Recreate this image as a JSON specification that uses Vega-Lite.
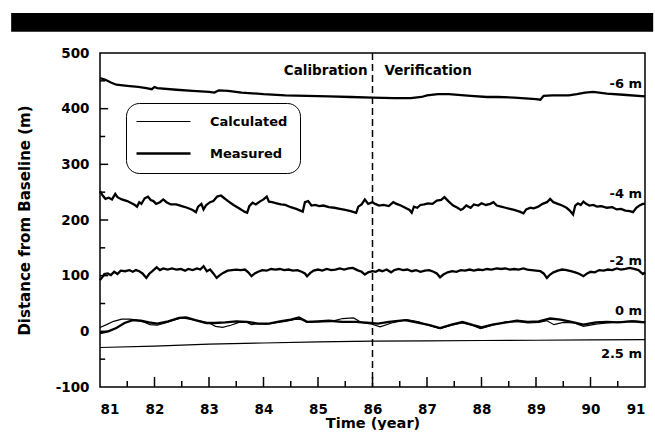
{
  "$schema": "https://vega.github.io/schema/vega-lite/v6.json",
  "background": "white",
  "padding": {"left": 11, "top": 12, "right": 0, "bottom": 0},
  "autosize": {"type": "pad"},
  "width": 545,
  "height": 334,
  "config": {
    "font": "DejaVu Sans",
    "view": {"stroke": "black", "strokeWidth": 1.5, "fill": null},
    "axis": {
      "domain": false,
      "ticks": false,
      "grid": false,
      "labelColor": "black",
      "labelFont": "DejaVu Sans",
      "labelFontSize": 13.5,
      "labelFontWeight": "bold",
      "titleColor": "black",
      "titleFont": "DejaVu Sans",
      "titleFontWeight": "bold"
    },
    "text": {"font": "DejaVu Sans", "fontWeight": "bold", "color": "black"}
  },
  "datasets": {
    "shoreline": [
      {"line":"-6 m","kind":"Measured","year":81,"dist":455},{"line":"-6 m","kind":"Measured","year":81.1,"dist":452},{"line":"-6 m","kind":"Measured","year":81.2,"dist":447},{"line":"-6 m","kind":"Measured","year":81.3,"dist":443},{"line":"-6 m","kind":"Measured","year":81.5,"dist":441},{"line":"-6 m","kind":"Measured","year":81.7,"dist":439},{"line":"-6 m","kind":"Measured","year":81.85,"dist":437},{"line":"-6 m","kind":"Measured","year":81.95,"dist":435},{"line":"-6 m","kind":"Measured","year":82,"dist":439},{"line":"-6 m","kind":"Measured","year":82.05,"dist":437},{"line":"-6 m","kind":"Measured","year":82.4,"dist":434},{"line":"-6 m","kind":"Measured","year":82.7,"dist":432},{"line":"-6 m","kind":"Measured","year":83,"dist":430},{"line":"-6 m","kind":"Measured","year":83.1,"dist":429},{"line":"-6 m","kind":"Measured","year":83.18,"dist":433},{"line":"-6 m","kind":"Measured","year":83.35,"dist":432},{"line":"-6 m","kind":"Measured","year":83.6,"dist":429},{"line":"-6 m","kind":"Measured","year":84,"dist":426},{"line":"-6 m","kind":"Measured","year":84.4,"dist":424},{"line":"-6 m","kind":"Measured","year":84.8,"dist":423},{"line":"-6 m","kind":"Measured","year":85.2,"dist":422},{"line":"-6 m","kind":"Measured","year":85.6,"dist":421},{"line":"-6 m","kind":"Measured","year":86,"dist":420},{"line":"-6 m","kind":"Measured","year":86.4,"dist":419},{"line":"-6 m","kind":"Measured","year":86.7,"dist":419},{"line":"-6 m","kind":"Measured","year":86.9,"dist":421},{"line":"-6 m","kind":"Measured","year":87,"dist":424},{"line":"-6 m","kind":"Measured","year":87.2,"dist":426},{"line":"-6 m","kind":"Measured","year":87.4,"dist":426},{"line":"-6 m","kind":"Measured","year":87.8,"dist":423},{"line":"-6 m","kind":"Measured","year":88.1,"dist":421},{"line":"-6 m","kind":"Measured","year":88.3,"dist":421},{"line":"-6 m","kind":"Measured","year":88.6,"dist":420},{"line":"-6 m","kind":"Measured","year":89,"dist":417},{"line":"-6 m","kind":"Measured","year":89.08,"dist":416},{"line":"-6 m","kind":"Measured","year":89.14,"dist":423},{"line":"-6 m","kind":"Measured","year":89.3,"dist":424},{"line":"-6 m","kind":"Measured","year":89.6,"dist":424},{"line":"-6 m","kind":"Measured","year":89.75,"dist":426},{"line":"-6 m","kind":"Measured","year":89.9,"dist":429},{"line":"-6 m","kind":"Measured","year":90.05,"dist":430},{"line":"-6 m","kind":"Measured","year":90.3,"dist":427},{"line":"-6 m","kind":"Measured","year":90.6,"dist":425},{"line":"-6 m","kind":"Measured","year":91,"dist":422},

      {"line":"-4 m","kind":"Measured","year":81.0,"dist":252},{"line":"-4 m","kind":"Measured","year":81.05,"dist":244},{"line":"-4 m","kind":"Measured","year":81.1,"dist":238},{"line":"-4 m","kind":"Measured","year":81.16,"dist":240},{"line":"-4 m","kind":"Measured","year":81.22,"dist":237},{"line":"-4 m","kind":"Measured","year":81.28,"dist":247},{"line":"-4 m","kind":"Measured","year":81.32,"dist":241},{"line":"-4 m","kind":"Measured","year":81.4,"dist":237},{"line":"-4 m","kind":"Measured","year":81.5,"dist":234},{"line":"-4 m","kind":"Measured","year":81.58,"dist":230},{"line":"-4 m","kind":"Measured","year":81.64,"dist":227},{"line":"-4 m","kind":"Measured","year":81.68,"dist":224},{"line":"-4 m","kind":"Measured","year":81.72,"dist":232},{"line":"-4 m","kind":"Measured","year":81.76,"dist":229},{"line":"-4 m","kind":"Measured","year":81.82,"dist":239},{"line":"-4 m","kind":"Measured","year":81.88,"dist":242},{"line":"-4 m","kind":"Measured","year":81.93,"dist":236},{"line":"-4 m","kind":"Measured","year":81.98,"dist":234},{"line":"-4 m","kind":"Measured","year":82.03,"dist":229},{"line":"-4 m","kind":"Measured","year":82.1,"dist":232},{"line":"-4 m","kind":"Measured","year":82.16,"dist":237},{"line":"-4 m","kind":"Measured","year":82.22,"dist":232},{"line":"-4 m","kind":"Measured","year":82.3,"dist":228},{"line":"-4 m","kind":"Measured","year":82.4,"dist":228},{"line":"-4 m","kind":"Measured","year":82.5,"dist":225},{"line":"-4 m","kind":"Measured","year":82.6,"dist":222},{"line":"-4 m","kind":"Measured","year":82.7,"dist":218},{"line":"-4 m","kind":"Measured","year":82.76,"dist":214},{"line":"-4 m","kind":"Measured","year":82.8,"dist":224},{"line":"-4 m","kind":"Measured","year":82.86,"dist":229},{"line":"-4 m","kind":"Measured","year":82.9,"dist":219},{"line":"-4 m","kind":"Measured","year":82.95,"dist":227},{"line":"-4 m","kind":"Measured","year":83.02,"dist":232},{"line":"-4 m","kind":"Measured","year":83.08,"dist":234},{"line":"-4 m","kind":"Measured","year":83.15,"dist":242},{"line":"-4 m","kind":"Measured","year":83.22,"dist":244},{"line":"-4 m","kind":"Measured","year":83.27,"dist":240},{"line":"-4 m","kind":"Measured","year":83.35,"dist":234},{"line":"-4 m","kind":"Measured","year":83.45,"dist":227},{"line":"-4 m","kind":"Measured","year":83.55,"dist":221},{"line":"-4 m","kind":"Measured","year":83.65,"dist":215},{"line":"-4 m","kind":"Measured","year":83.7,"dist":213},{"line":"-4 m","kind":"Measured","year":83.74,"dist":225},{"line":"-4 m","kind":"Measured","year":83.8,"dist":231},{"line":"-4 m","kind":"Measured","year":83.86,"dist":228},{"line":"-4 m","kind":"Measured","year":83.93,"dist":233},{"line":"-4 m","kind":"Measured","year":84.0,"dist":237},{"line":"-4 m","kind":"Measured","year":84.06,"dist":242},{"line":"-4 m","kind":"Measured","year":84.1,"dist":233},{"line":"-4 m","kind":"Measured","year":84.16,"dist":232},{"line":"-4 m","kind":"Measured","year":84.24,"dist":230},{"line":"-4 m","kind":"Measured","year":84.32,"dist":228},{"line":"-4 m","kind":"Measured","year":84.4,"dist":227},{"line":"-4 m","kind":"Measured","year":84.5,"dist":223},{"line":"-4 m","kind":"Measured","year":84.6,"dist":220},{"line":"-4 m","kind":"Measured","year":84.72,"dist":215},{"line":"-4 m","kind":"Measured","year":84.76,"dist":232},{"line":"-4 m","kind":"Measured","year":84.82,"dist":234},{"line":"-4 m","kind":"Measured","year":84.88,"dist":226},{"line":"-4 m","kind":"Measured","year":84.95,"dist":227},{"line":"-4 m","kind":"Measured","year":85.02,"dist":225},{"line":"-4 m","kind":"Measured","year":85.1,"dist":226},{"line":"-4 m","kind":"Measured","year":85.2,"dist":223},{"line":"-4 m","kind":"Measured","year":85.3,"dist":222},{"line":"-4 m","kind":"Measured","year":85.4,"dist":220},{"line":"-4 m","kind":"Measured","year":85.5,"dist":218},{"line":"-4 m","kind":"Measured","year":85.6,"dist":216},{"line":"-4 m","kind":"Measured","year":85.7,"dist":213},{"line":"-4 m","kind":"Measured","year":85.74,"dist":224},{"line":"-4 m","kind":"Measured","year":85.8,"dist":228},{"line":"-4 m","kind":"Measured","year":85.86,"dist":237},{"line":"-4 m","kind":"Measured","year":85.92,"dist":229},{"line":"-4 m","kind":"Measured","year":86.0,"dist":232},{"line":"-4 m","kind":"Measured","year":86.05,"dist":229},{"line":"-4 m","kind":"Measured","year":86.12,"dist":226},{"line":"-4 m","kind":"Measured","year":86.2,"dist":227},{"line":"-4 m","kind":"Measured","year":86.3,"dist":225},{"line":"-4 m","kind":"Measured","year":86.38,"dist":232},{"line":"-4 m","kind":"Measured","year":86.44,"dist":229},{"line":"-4 m","kind":"Measured","year":86.52,"dist":226},{"line":"-4 m","kind":"Measured","year":86.6,"dist":222},{"line":"-4 m","kind":"Measured","year":86.68,"dist":218},{"line":"-4 m","kind":"Measured","year":86.72,"dist":213},{"line":"-4 m","kind":"Measured","year":86.76,"dist":224},{"line":"-4 m","kind":"Measured","year":86.82,"dist":222},{"line":"-4 m","kind":"Measured","year":86.88,"dist":227},{"line":"-4 m","kind":"Measured","year":86.95,"dist":228},{"line":"-4 m","kind":"Measured","year":87.02,"dist":230},{"line":"-4 m","kind":"Measured","year":87.1,"dist":229},{"line":"-4 m","kind":"Measured","year":87.18,"dist":235},{"line":"-4 m","kind":"Measured","year":87.26,"dist":236},{"line":"-4 m","kind":"Measured","year":87.32,"dist":241},{"line":"-4 m","kind":"Measured","year":87.4,"dist":233},{"line":"-4 m","kind":"Measured","year":87.48,"dist":226},{"line":"-4 m","kind":"Measured","year":87.56,"dist":222},{"line":"-4 m","kind":"Measured","year":87.62,"dist":218},{"line":"-4 m","kind":"Measured","year":87.66,"dist":220},{"line":"-4 m","kind":"Measured","year":87.72,"dist":226},{"line":"-4 m","kind":"Measured","year":87.8,"dist":222},{"line":"-4 m","kind":"Measured","year":87.86,"dist":228},{"line":"-4 m","kind":"Measured","year":87.94,"dist":226},{"line":"-4 m","kind":"Measured","year":88.0,"dist":230},{"line":"-4 m","kind":"Measured","year":88.08,"dist":227},{"line":"-4 m","kind":"Measured","year":88.16,"dist":229},{"line":"-4 m","kind":"Measured","year":88.22,"dist":232},{"line":"-4 m","kind":"Measured","year":88.28,"dist":226},{"line":"-4 m","kind":"Measured","year":88.36,"dist":224},{"line":"-4 m","kind":"Measured","year":88.44,"dist":222},{"line":"-4 m","kind":"Measured","year":88.52,"dist":220},{"line":"-4 m","kind":"Measured","year":88.6,"dist":218},{"line":"-4 m","kind":"Measured","year":88.7,"dist":215},{"line":"-4 m","kind":"Measured","year":88.77,"dist":212},{"line":"-4 m","kind":"Measured","year":88.82,"dist":219},{"line":"-4 m","kind":"Measured","year":88.9,"dist":222},{"line":"-4 m","kind":"Measured","year":88.96,"dist":221},{"line":"-4 m","kind":"Measured","year":89.04,"dist":224},{"line":"-4 m","kind":"Measured","year":89.12,"dist":229},{"line":"-4 m","kind":"Measured","year":89.2,"dist":232},{"line":"-4 m","kind":"Measured","year":89.26,"dist":238},{"line":"-4 m","kind":"Measured","year":89.32,"dist":232},{"line":"-4 m","kind":"Measured","year":89.4,"dist":229},{"line":"-4 m","kind":"Measured","year":89.48,"dist":226},{"line":"-4 m","kind":"Measured","year":89.56,"dist":222},{"line":"-4 m","kind":"Measured","year":89.62,"dist":217},{"line":"-4 m","kind":"Measured","year":89.68,"dist":210},{"line":"-4 m","kind":"Measured","year":89.72,"dist":226},{"line":"-4 m","kind":"Measured","year":89.77,"dist":230},{"line":"-4 m","kind":"Measured","year":89.82,"dist":227},{"line":"-4 m","kind":"Measured","year":89.87,"dist":233},{"line":"-4 m","kind":"Measured","year":89.92,"dist":229},{"line":"-4 m","kind":"Measured","year":89.98,"dist":226},{"line":"-4 m","kind":"Measured","year":90.05,"dist":227},{"line":"-4 m","kind":"Measured","year":90.12,"dist":224},{"line":"-4 m","kind":"Measured","year":90.2,"dist":225},{"line":"-4 m","kind":"Measured","year":90.3,"dist":222},{"line":"-4 m","kind":"Measured","year":90.4,"dist":223},{"line":"-4 m","kind":"Measured","year":90.48,"dist":219},{"line":"-4 m","kind":"Measured","year":90.56,"dist":220},{"line":"-4 m","kind":"Measured","year":90.64,"dist":217},{"line":"-4 m","kind":"Measured","year":90.72,"dist":216},{"line":"-4 m","kind":"Measured","year":90.78,"dist":214},{"line":"-4 m","kind":"Measured","year":90.84,"dist":222},{"line":"-4 m","kind":"Measured","year":90.9,"dist":226},{"line":"-4 m","kind":"Measured","year":90.96,"dist":229},{"line":"-4 m","kind":"Measured","year":91.0,"dist":229},

      {"line":"-2 m","kind":"Measured","year":81.0,"dist":92},{"line":"-2 m","kind":"Measured","year":81.04,"dist":97},{"line":"-2 m","kind":"Measured","year":81.08,"dist":103},{"line":"-2 m","kind":"Measured","year":81.14,"dist":104},{"line":"-2 m","kind":"Measured","year":81.2,"dist":101},{"line":"-2 m","kind":"Measured","year":81.26,"dist":107},{"line":"-2 m","kind":"Measured","year":81.32,"dist":103},{"line":"-2 m","kind":"Measured","year":81.38,"dist":109},{"line":"-2 m","kind":"Measured","year":81.46,"dist":108},{"line":"-2 m","kind":"Measured","year":81.54,"dist":110},{"line":"-2 m","kind":"Measured","year":81.6,"dist":107},{"line":"-2 m","kind":"Measured","year":81.66,"dist":110},{"line":"-2 m","kind":"Measured","year":81.72,"dist":108},{"line":"-2 m","kind":"Measured","year":81.78,"dist":104},{"line":"-2 m","kind":"Measured","year":81.85,"dist":96},{"line":"-2 m","kind":"Measured","year":81.9,"dist":103},{"line":"-2 m","kind":"Measured","year":81.96,"dist":108},{"line":"-2 m","kind":"Measured","year":82.04,"dist":115},{"line":"-2 m","kind":"Measured","year":82.1,"dist":110},{"line":"-2 m","kind":"Measured","year":82.16,"dist":113},{"line":"-2 m","kind":"Measured","year":82.24,"dist":111},{"line":"-2 m","kind":"Measured","year":82.32,"dist":113},{"line":"-2 m","kind":"Measured","year":82.4,"dist":111},{"line":"-2 m","kind":"Measured","year":82.48,"dist":112},{"line":"-2 m","kind":"Measured","year":82.56,"dist":109},{"line":"-2 m","kind":"Measured","year":82.62,"dist":112},{"line":"-2 m","kind":"Measured","year":82.7,"dist":110},{"line":"-2 m","kind":"Measured","year":82.78,"dist":113},{"line":"-2 m","kind":"Measured","year":82.84,"dist":111},{"line":"-2 m","kind":"Measured","year":82.9,"dist":117},{"line":"-2 m","kind":"Measured","year":82.96,"dist":108},{"line":"-2 m","kind":"Measured","year":83.02,"dist":111},{"line":"-2 m","kind":"Measured","year":83.08,"dist":104},{"line":"-2 m","kind":"Measured","year":83.14,"dist":96},{"line":"-2 m","kind":"Measured","year":83.2,"dist":101},{"line":"-2 m","kind":"Measured","year":83.26,"dist":105},{"line":"-2 m","kind":"Measured","year":83.34,"dist":109},{"line":"-2 m","kind":"Measured","year":83.42,"dist":110},{"line":"-2 m","kind":"Measured","year":83.5,"dist":111},{"line":"-2 m","kind":"Measured","year":83.58,"dist":110},{"line":"-2 m","kind":"Measured","year":83.66,"dist":111},{"line":"-2 m","kind":"Measured","year":83.72,"dist":106},{"line":"-2 m","kind":"Measured","year":83.78,"dist":99},{"line":"-2 m","kind":"Measured","year":83.84,"dist":104},{"line":"-2 m","kind":"Measured","year":83.9,"dist":107},{"line":"-2 m","kind":"Measured","year":83.98,"dist":110},{"line":"-2 m","kind":"Measured","year":84.06,"dist":109},{"line":"-2 m","kind":"Measured","year":84.14,"dist":112},{"line":"-2 m","kind":"Measured","year":84.22,"dist":111},{"line":"-2 m","kind":"Measured","year":84.3,"dist":112},{"line":"-2 m","kind":"Measured","year":84.38,"dist":110},{"line":"-2 m","kind":"Measured","year":84.46,"dist":111},{"line":"-2 m","kind":"Measured","year":84.54,"dist":109},{"line":"-2 m","kind":"Measured","year":84.62,"dist":110},{"line":"-2 m","kind":"Measured","year":84.7,"dist":107},{"line":"-2 m","kind":"Measured","year":84.76,"dist":104},{"line":"-2 m","kind":"Measured","year":84.8,"dist":99},{"line":"-2 m","kind":"Measured","year":84.86,"dist":105},{"line":"-2 m","kind":"Measured","year":84.92,"dist":109},{"line":"-2 m","kind":"Measured","year":85.0,"dist":111},{"line":"-2 m","kind":"Measured","year":85.08,"dist":109},{"line":"-2 m","kind":"Measured","year":85.16,"dist":112},{"line":"-2 m","kind":"Measured","year":85.24,"dist":110},{"line":"-2 m","kind":"Measured","year":85.32,"dist":111},{"line":"-2 m","kind":"Measured","year":85.4,"dist":113},{"line":"-2 m","kind":"Measured","year":85.48,"dist":111},{"line":"-2 m","kind":"Measured","year":85.56,"dist":113},{"line":"-2 m","kind":"Measured","year":85.64,"dist":114},{"line":"-2 m","kind":"Measured","year":85.72,"dist":110},{"line":"-2 m","kind":"Measured","year":85.8,"dist":107},{"line":"-2 m","kind":"Measured","year":85.86,"dist":102},{"line":"-2 m","kind":"Measured","year":85.92,"dist":106},{"line":"-2 m","kind":"Measured","year":86.0,"dist":108},{"line":"-2 m","kind":"Measured","year":86.06,"dist":107},{"line":"-2 m","kind":"Measured","year":86.12,"dist":110},{"line":"-2 m","kind":"Measured","year":86.18,"dist":108},{"line":"-2 m","kind":"Measured","year":86.26,"dist":111},{"line":"-2 m","kind":"Measured","year":86.34,"dist":106},{"line":"-2 m","kind":"Measured","year":86.4,"dist":110},{"line":"-2 m","kind":"Measured","year":86.48,"dist":112},{"line":"-2 m","kind":"Measured","year":86.56,"dist":110},{"line":"-2 m","kind":"Measured","year":86.64,"dist":111},{"line":"-2 m","kind":"Measured","year":86.72,"dist":108},{"line":"-2 m","kind":"Measured","year":86.8,"dist":110},{"line":"-2 m","kind":"Measured","year":86.88,"dist":107},{"line":"-2 m","kind":"Measured","year":86.96,"dist":109},{"line":"-2 m","kind":"Measured","year":87.04,"dist":110},{"line":"-2 m","kind":"Measured","year":87.12,"dist":107},{"line":"-2 m","kind":"Measured","year":87.18,"dist":104},{"line":"-2 m","kind":"Measured","year":87.24,"dist":97},{"line":"-2 m","kind":"Measured","year":87.3,"dist":102},{"line":"-2 m","kind":"Measured","year":87.38,"dist":106},{"line":"-2 m","kind":"Measured","year":87.46,"dist":108},{"line":"-2 m","kind":"Measured","year":87.54,"dist":107},{"line":"-2 m","kind":"Measured","year":87.62,"dist":110},{"line":"-2 m","kind":"Measured","year":87.7,"dist":109},{"line":"-2 m","kind":"Measured","year":87.78,"dist":111},{"line":"-2 m","kind":"Measured","year":87.86,"dist":109},{"line":"-2 m","kind":"Measured","year":87.94,"dist":111},{"line":"-2 m","kind":"Measured","year":88.02,"dist":110},{"line":"-2 m","kind":"Measured","year":88.1,"dist":112},{"line":"-2 m","kind":"Measured","year":88.18,"dist":111},{"line":"-2 m","kind":"Measured","year":88.28,"dist":113},{"line":"-2 m","kind":"Measured","year":88.36,"dist":112},{"line":"-2 m","kind":"Measured","year":88.44,"dist":113},{"line":"-2 m","kind":"Measured","year":88.52,"dist":111},{"line":"-2 m","kind":"Measured","year":88.6,"dist":112},{"line":"-2 m","kind":"Measured","year":88.68,"dist":111},{"line":"-2 m","kind":"Measured","year":88.77,"dist":113},{"line":"-2 m","kind":"Measured","year":88.84,"dist":111},{"line":"-2 m","kind":"Measured","year":88.92,"dist":110},{"line":"-2 m","kind":"Measured","year":89.0,"dist":109},{"line":"-2 m","kind":"Measured","year":89.08,"dist":108},{"line":"-2 m","kind":"Measured","year":89.14,"dist":104},{"line":"-2 m","kind":"Measured","year":89.2,"dist":96},{"line":"-2 m","kind":"Measured","year":89.26,"dist":102},{"line":"-2 m","kind":"Measured","year":89.32,"dist":106},{"line":"-2 m","kind":"Measured","year":89.4,"dist":109},{"line":"-2 m","kind":"Measured","year":89.48,"dist":111},{"line":"-2 m","kind":"Measured","year":89.56,"dist":110},{"line":"-2 m","kind":"Measured","year":89.64,"dist":108},{"line":"-2 m","kind":"Measured","year":89.72,"dist":106},{"line":"-2 m","kind":"Measured","year":89.8,"dist":103},{"line":"-2 m","kind":"Measured","year":89.87,"dist":99},{"line":"-2 m","kind":"Measured","year":89.94,"dist":104},{"line":"-2 m","kind":"Measured","year":90.0,"dist":107},{"line":"-2 m","kind":"Measured","year":90.08,"dist":106},{"line":"-2 m","kind":"Measured","year":90.16,"dist":110},{"line":"-2 m","kind":"Measured","year":90.24,"dist":109},{"line":"-2 m","kind":"Measured","year":90.32,"dist":111},{"line":"-2 m","kind":"Measured","year":90.4,"dist":110},{"line":"-2 m","kind":"Measured","year":90.48,"dist":113},{"line":"-2 m","kind":"Measured","year":90.56,"dist":111},{"line":"-2 m","kind":"Measured","year":90.64,"dist":112},{"line":"-2 m","kind":"Measured","year":90.72,"dist":114},{"line":"-2 m","kind":"Measured","year":90.8,"dist":112},{"line":"-2 m","kind":"Measured","year":90.88,"dist":110},{"line":"-2 m","kind":"Measured","year":90.96,"dist":103},{"line":"-2 m","kind":"Measured","year":91.0,"dist":106},

      {"line":"0 m measured","kind":"Measured","year":81.0,"dist":-3},{"line":"0 m measured","kind":"Measured","year":81.15,"dist":0},{"line":"0 m measured","kind":"Measured","year":81.3,"dist":6},{"line":"0 m measured","kind":"Measured","year":81.45,"dist":15},{"line":"0 m measured","kind":"Measured","year":81.6,"dist":20},{"line":"0 m measured","kind":"Measured","year":81.75,"dist":19},{"line":"0 m measured","kind":"Measured","year":81.9,"dist":16},{"line":"0 m measured","kind":"Measured","year":82.05,"dist":14},{"line":"0 m measured","kind":"Measured","year":82.25,"dist":18},{"line":"0 m measured","kind":"Measured","year":82.45,"dist":24},{"line":"0 m measured","kind":"Measured","year":82.58,"dist":25},{"line":"0 m measured","kind":"Measured","year":82.75,"dist":20},{"line":"0 m measured","kind":"Measured","year":82.95,"dist":15},{"line":"0 m measured","kind":"Measured","year":83.1,"dist":15},{"line":"0 m measured","kind":"Measured","year":83.3,"dist":16},{"line":"0 m measured","kind":"Measured","year":83.5,"dist":18},{"line":"0 m measured","kind":"Measured","year":83.7,"dist":17},{"line":"0 m measured","kind":"Measured","year":83.9,"dist":14},{"line":"0 m measured","kind":"Measured","year":84.1,"dist":14},{"line":"0 m measured","kind":"Measured","year":84.3,"dist":18},{"line":"0 m measured","kind":"Measured","year":84.5,"dist":21},{"line":"0 m measured","kind":"Measured","year":84.65,"dist":25},{"line":"0 m measured","kind":"Measured","year":84.8,"dist":17},{"line":"0 m measured","kind":"Measured","year":85.0,"dist":18},{"line":"0 m measured","kind":"Measured","year":85.2,"dist":19},{"line":"0 m measured","kind":"Measured","year":85.45,"dist":17},{"line":"0 m measured","kind":"Measured","year":85.7,"dist":17},{"line":"0 m measured","kind":"Measured","year":85.95,"dist":15},{"line":"0 m measured","kind":"Measured","year":86.1,"dist":14},{"line":"0 m measured","kind":"Measured","year":86.3,"dist":17},{"line":"0 m measured","kind":"Measured","year":86.6,"dist":20},{"line":"0 m measured","kind":"Measured","year":86.85,"dist":15},{"line":"0 m measured","kind":"Measured","year":87.05,"dist":11},{"line":"0 m measured","kind":"Measured","year":87.24,"dist":6},{"line":"0 m measured","kind":"Measured","year":87.45,"dist":12},{"line":"0 m measured","kind":"Measured","year":87.65,"dist":17},{"line":"0 m measured","kind":"Measured","year":87.85,"dist":11},{"line":"0 m measured","kind":"Measured","year":88.0,"dist":7},{"line":"0 m measured","kind":"Measured","year":88.2,"dist":12},{"line":"0 m measured","kind":"Measured","year":88.45,"dist":16},{"line":"0 m measured","kind":"Measured","year":88.65,"dist":19},{"line":"0 m measured","kind":"Measured","year":88.85,"dist":17},{"line":"0 m measured","kind":"Measured","year":89.05,"dist":18},{"line":"0 m measured","kind":"Measured","year":89.26,"dist":23},{"line":"0 m measured","kind":"Measured","year":89.45,"dist":21},{"line":"0 m measured","kind":"Measured","year":89.65,"dist":17},{"line":"0 m measured","kind":"Measured","year":89.87,"dist":12},{"line":"0 m measured","kind":"Measured","year":90.1,"dist":16},{"line":"0 m measured","kind":"Measured","year":90.3,"dist":17},{"line":"0 m measured","kind":"Measured","year":90.5,"dist":16},{"line":"0 m measured","kind":"Measured","year":90.75,"dist":18},{"line":"0 m measured","kind":"Measured","year":91.0,"dist":16},

      {"line":"0 m calculated","kind":"Calculated","year":81.0,"dist":7},{"line":"0 m calculated","kind":"Calculated","year":81.12,"dist":12},{"line":"0 m calculated","kind":"Calculated","year":81.25,"dist":18},{"line":"0 m calculated","kind":"Calculated","year":81.4,"dist":22},{"line":"0 m calculated","kind":"Calculated","year":81.55,"dist":22},{"line":"0 m calculated","kind":"Calculated","year":81.68,"dist":20},{"line":"0 m calculated","kind":"Calculated","year":81.8,"dist":17},{"line":"0 m calculated","kind":"Calculated","year":81.92,"dist":12},{"line":"0 m calculated","kind":"Calculated","year":82.05,"dist":11},{"line":"0 m calculated","kind":"Calculated","year":82.2,"dist":15},{"line":"0 m calculated","kind":"Calculated","year":82.35,"dist":20},{"line":"0 m calculated","kind":"Calculated","year":82.5,"dist":24},{"line":"0 m calculated","kind":"Calculated","year":82.65,"dist":22},{"line":"0 m calculated","kind":"Calculated","year":82.85,"dist":18},{"line":"0 m calculated","kind":"Calculated","year":83.0,"dist":15},{"line":"0 m calculated","kind":"Calculated","year":83.12,"dist":9},{"line":"0 m calculated","kind":"Calculated","year":83.25,"dist":7},{"line":"0 m calculated","kind":"Calculated","year":83.4,"dist":11},{"line":"0 m calculated","kind":"Calculated","year":83.55,"dist":16},{"line":"0 m calculated","kind":"Calculated","year":83.7,"dist":16},{"line":"0 m calculated","kind":"Calculated","year":83.78,"dist":12},{"line":"0 m calculated","kind":"Calculated","year":83.9,"dist":14},{"line":"0 m calculated","kind":"Calculated","year":84.05,"dist":13},{"line":"0 m calculated","kind":"Calculated","year":84.2,"dist":15},{"line":"0 m calculated","kind":"Calculated","year":84.4,"dist":18},{"line":"0 m calculated","kind":"Calculated","year":84.6,"dist":22},{"line":"0 m calculated","kind":"Calculated","year":84.7,"dist":21},{"line":"0 m calculated","kind":"Calculated","year":84.8,"dist":16},{"line":"0 m calculated","kind":"Calculated","year":85.0,"dist":17},{"line":"0 m calculated","kind":"Calculated","year":85.25,"dist":18},{"line":"0 m calculated","kind":"Calculated","year":85.45,"dist":23},{"line":"0 m calculated","kind":"Calculated","year":85.65,"dist":24},{"line":"0 m calculated","kind":"Calculated","year":85.8,"dist":16},{"line":"0 m calculated","kind":"Calculated","year":85.95,"dist":14},{"line":"0 m calculated","kind":"Calculated","year":86.14,"dist":8},{"line":"0 m calculated","kind":"Calculated","year":86.35,"dist":15},{"line":"0 m calculated","kind":"Calculated","year":86.63,"dist":21},{"line":"0 m calculated","kind":"Calculated","year":86.85,"dist":17},{"line":"0 m calculated","kind":"Calculated","year":87.05,"dist":10},{"line":"0 m calculated","kind":"Calculated","year":87.24,"dist":5},{"line":"0 m calculated","kind":"Calculated","year":87.45,"dist":11},{"line":"0 m calculated","kind":"Calculated","year":87.65,"dist":15},{"line":"0 m calculated","kind":"Calculated","year":87.85,"dist":10},{"line":"0 m calculated","kind":"Calculated","year":87.98,"dist":5},{"line":"0 m calculated","kind":"Calculated","year":88.2,"dist":11},{"line":"0 m calculated","kind":"Calculated","year":88.45,"dist":17},{"line":"0 m calculated","kind":"Calculated","year":88.65,"dist":18},{"line":"0 m calculated","kind":"Calculated","year":88.85,"dist":15},{"line":"0 m calculated","kind":"Calculated","year":89.05,"dist":16},{"line":"0 m calculated","kind":"Calculated","year":89.2,"dist":19},{"line":"0 m calculated","kind":"Calculated","year":89.33,"dist":12},{"line":"0 m calculated","kind":"Calculated","year":89.5,"dist":16},{"line":"0 m calculated","kind":"Calculated","year":89.7,"dist":15},{"line":"0 m calculated","kind":"Calculated","year":89.87,"dist":9},{"line":"0 m calculated","kind":"Calculated","year":90.1,"dist":13},{"line":"0 m calculated","kind":"Calculated","year":90.3,"dist":15},{"line":"0 m calculated","kind":"Calculated","year":90.55,"dist":17},{"line":"0 m calculated","kind":"Calculated","year":90.8,"dist":19},{"line":"0 m calculated","kind":"Calculated","year":91.0,"dist":17},

      {"line":"2.5 m","kind":"Calculated","year":81,"dist":-29},{"line":"2.5 m","kind":"Calculated","year":82,"dist":-26.5},{"line":"2.5 m","kind":"Calculated","year":83,"dist":-23},{"line":"2.5 m","kind":"Calculated","year":84,"dist":-21},{"line":"2.5 m","kind":"Calculated","year":85,"dist":-19},{"line":"2.5 m","kind":"Calculated","year":86,"dist":-17.5},{"line":"2.5 m","kind":"Calculated","year":87,"dist":-17},{"line":"2.5 m","kind":"Calculated","year":88,"dist":-16.5},{"line":"2.5 m","kind":"Calculated","year":89,"dist":-16},{"line":"2.5 m","kind":"Calculated","year":90,"dist":-15.5},{"line":"2.5 m","kind":"Calculated","year":91,"dist":-15}
    ],
    "yearTicks": [
      {"year": 81.5, "level": "minor"}, {"year": 82, "level": "major"},
      {"year": 82.5, "level": "minor"}, {"year": 83, "level": "major"},
      {"year": 83.5, "level": "minor"}, {"year": 84, "level": "major"},
      {"year": 84.5, "level": "minor"}, {"year": 85, "level": "major"},
      {"year": 85.5, "level": "minor"}, {"year": 86, "level": "major"},
      {"year": 86.5, "level": "minor"}, {"year": 87, "level": "major"},
      {"year": 87.5, "level": "minor"}, {"year": 88, "level": "major"},
      {"year": 88.5, "level": "minor"}, {"year": 89, "level": "major"},
      {"year": 89.5, "level": "minor"}, {"year": 90, "level": "major"},
      {"year": 90.5, "level": "minor"}
    ],
    "distTicks": [
      {"dist": -50, "level": "minor"}, {"dist": 0, "level": "major"},
      {"dist": 50, "level": "minor"}, {"dist": 100, "level": "major"},
      {"dist": 150, "level": "minor"}, {"dist": 200, "level": "major"},
      {"dist": 250, "level": "minor"}, {"dist": 300, "level": "major"},
      {"dist": 350, "level": "minor"}, {"dist": 400, "level": "major"},
      {"dist": 450, "level": "minor"}
    ],
    "depthLabels": [
      {"label": "-6 m", "year": 91, "dist": 444},
      {"label": "-4 m", "year": 91, "dist": 247},
      {"label": "-2 m", "year": 91, "dist": 126},
      {"label": "0 m", "year": 91, "dist": 36},
      {"label": "2.5 m", "year": 91, "dist": -41}
    ],
    "periods": [
      {"period": "Calibration", "year": 86, "dist": 468},
      {"period": "Verification", "year": 86, "dist": 468}
    ]
  },
  "layer": [
    {
      "data": {"name": "shoreline"},
      "mark": {"type": "line", "color": "black", "interpolate": "linear"},
      "encoding": {
        "x": {
          "field": "year", "type": "quantitative",
          "scale": {"domain": [81, 91], "nice": false, "zero": false},
          "axis": {
            "values": [81, 82, 83, 84, 85, 86, 87, 88, 89, 90, 91],
            "labelExpr": "'' + datum.value",
            "labelPadding": 15,
            "title": "Time (year)",
            "titleFontSize": 14.5,
            "titlePadding": 1
          }
        },
        "y": {
          "field": "dist", "type": "quantitative",
          "scale": {"domain": [-100, 500], "nice": false, "zero": false},
          "axis": {
            "values": [-100, 0, 100, 200, 300, 400, 500],
            "labelExpr": "'' + datum.value",
            "labelPadding": 11,
            "title": "Distance from Baseline (m)",
            "titleFontSize": 15,
            "titlePadding": 23
          }
        },
        "detail": {"field": "line"},
        "order": {"field": "year"},
        "strokeWidth": {
          "field": "kind", "type": "nominal",
          "scale": {"domain": ["Calculated", "Measured"], "range": [1.2, 2.3]},
          "legend": {
            "title": null,
            "orient": "none",
            "legendX": 26,
            "legendY": 50,
            "symbolType": "M-1.6,0H9.2",
            "symbolSize": 100,
            "symbolOffset": 0,
            "symbolStrokeColor": "black",
            "labelFont": "DejaVu Sans",
            "labelFontSize": 13,
            "labelFontWeight": "bold",
            "labelColor": "black",
            "labelOffset": 59,
            "labelExpr": "datum.label + '  '",
            "rowPadding": 18,
            "padding": 12,
            "strokeColor": "black",
            "cornerRadius": 13,
            "fillColor": "white"
          }
        }
      }
    },
    {
      "data": {"values": [{}]},
      "mark": {"type": "rect", "color": "black", "clip": false},
      "encoding": {
        "x": {"datum": 79.37, "type": "quantitative"},
        "x2": {"datum": 91.15},
        "y": {"datum": 572, "type": "quantitative"},
        "y2": {"datum": 538}
      }
    },
    {
      "data": {"name": "yearTicks"},
      "transform": [{"filter": "datum.level == 'major'"}],
      "mark": {"type": "rule", "color": "black", "strokeWidth": 1.5},
      "encoding": {
        "x": {"field": "year", "type": "quantitative"},
        "y": {"datum": -100, "type": "quantitative"},
        "y2": {"datum": -82}
      }
    },
    {
      "data": {"name": "yearTicks"},
      "transform": [{"filter": "datum.level == 'minor'"}],
      "mark": {"type": "rule", "color": "black", "strokeWidth": 1.5},
      "encoding": {
        "x": {"field": "year", "type": "quantitative"},
        "y": {"datum": -100, "type": "quantitative"},
        "y2": {"datum": -89}
      }
    },
    {
      "data": {"name": "distTicks"},
      "transform": [{"filter": "datum.level == 'major'"}],
      "mark": {"type": "rule", "color": "black", "strokeWidth": 1.5},
      "encoding": {
        "y": {"field": "dist", "type": "quantitative"},
        "x": {"datum": 81, "type": "quantitative"},
        "x2": {"datum": 81.15}
      }
    },
    {
      "data": {"name": "distTicks"},
      "transform": [{"filter": "datum.level == 'minor'"}],
      "mark": {"type": "rule", "color": "black", "strokeWidth": 1.5},
      "encoding": {
        "y": {"field": "dist", "type": "quantitative"},
        "x": {"datum": 81, "type": "quantitative"},
        "x2": {"datum": 81.095}
      }
    },
    {
      "data": {"values": [{"year": 86}]},
      "mark": {"type": "rule", "color": "black", "strokeWidth": 1.5, "strokeDash": [7, 4]},
      "encoding": {
        "x": {"field": "year", "type": "quantitative"}
      }
    },
    {
      "data": {"name": "depthLabels"},
      "mark": {"type": "text", "align": "right", "baseline": "middle", "dx": -3, "fontSize": 13},
      "encoding": {
        "x": {"field": "year", "type": "quantitative"},
        "y": {"field": "dist", "type": "quantitative"},
        "text": {"field": "label"}
      }
    },
    {
      "data": {"name": "periods"},
      "transform": [{"filter": "datum.period == 'Calibration'"}],
      "mark": {"type": "text", "align": "right", "baseline": "middle", "dx": -5, "fontSize": 13.5},
      "encoding": {
        "x": {"field": "year", "type": "quantitative"},
        "y": {"field": "dist", "type": "quantitative"},
        "text": {"field": "period"}
      }
    },
    {
      "data": {"name": "periods"},
      "transform": [{"filter": "datum.period == 'Verification'"}],
      "mark": {"type": "text", "align": "left", "baseline": "middle", "dx": 12, "fontSize": 13.5},
      "encoding": {
        "x": {"field": "year", "type": "quantitative"},
        "y": {"field": "dist", "type": "quantitative"},
        "text": {"field": "period"}
      }
    }
  ]
}
